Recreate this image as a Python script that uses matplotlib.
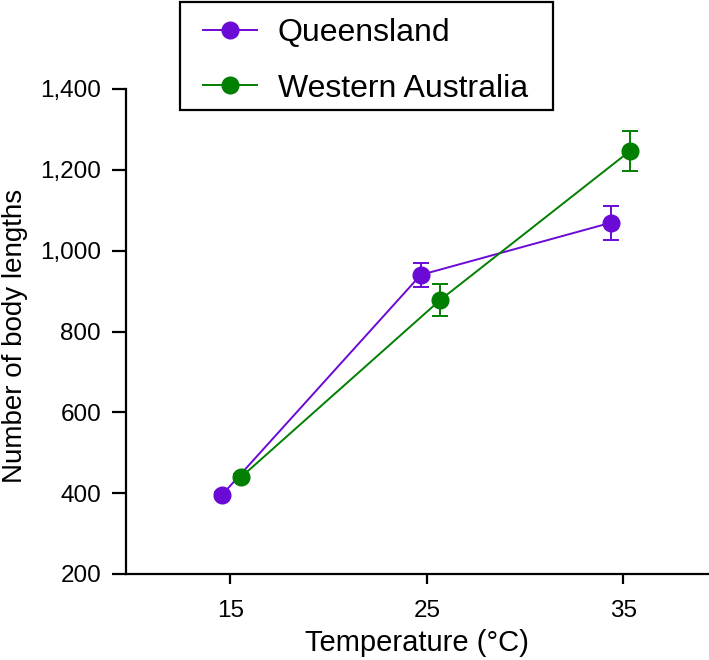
import matplotlib
matplotlib.use("Agg")
import matplotlib.pyplot as plt
from matplotlib.lines import Line2D
from matplotlib.patches import Rectangle
from matplotlib.legend_handler import HandlerLine2D

plt.rcParams['font.family'] = ['Liberation Sans', 'DejaVu Sans']

temps = [15, 25, 35]
series = ["Queensland", "Western Australia"]
# plotted (dodged) temperature positions
qld_x = [14.57, 24.69, 34.35]
wa_x = [15.56, 25.68, 35.34]
qld_mean = [395, 940, 1069]
qld_err = [8, 30, 42]
wa_mean = [440, 878, 1247]
wa_err = [8, 40, 49]
colors = ["#6B0AD6", "#007F00"]

W, H = 709, 660
fig = plt.figure(figsize=(W / 100, H / 100), dpi=100)
ax = fig.add_axes([126 / W, 1 - 574 / H, (708 - 126) / W, (574 - 89) / H])

handles = []
for name, x, m, e, c in zip(series, [qld_x, wa_x], [qld_mean, wa_mean],
                            [qld_err, wa_err], colors):
    ax.errorbar(x, m, yerr=e, color=c, marker='o', markersize=12, lw=1.4,
                capsize=6, capthick=1.4, elinewidth=1.4)
    handles.append(Line2D([], [], color=c, marker='o', markersize=12, lw=1.4))

ax.set_xlim(9.7, 39.3)
ax.set_ylim(200, 1400)
ax.set_xticks(temps)
yt = [200, 400, 600, 800, 1000, 1200, 1400]
ax.set_yticks(yt)
ax.set_yticklabels([f"{v:,}" for v in yt])
for s in ['top', 'right']:
    ax.spines[s].set_visible(False)
for s in ['left', 'bottom']:
    ax.spines[s].set_linewidth(1.6)
ax.tick_params(axis='both', direction='out', width=1.6, labelsize=17.5)
ax.tick_params(axis='y', length=10, pad=8)
ax.tick_params(axis='x', length=7, pad=12)
ax.set_xlabel("Temperature (°C)", fontsize=21, labelpad=5)
fig.text(15 / W, 1 - 336 / H, "Number of body lengths", fontsize=20,
         rotation=90, ha='center', va='center')

# legend frame drawn in figure pixels
fig.add_artist(Rectangle((180 / W, 1 - 110 / H), (553 - 180) / W, (110 - 2) / H,
                         transform=fig.transFigure, fill=False, edgecolor='black',
                         lw=1.6, zorder=5))
leg = fig.legend(handles=handles, labels=series, loc='upper left',
                 bbox_to_anchor=(180 / W, 1 - 2 / H), borderaxespad=0, fontsize=23,
                 frameon=False, numpoints=1,
                 handler_map={Line2D: HandlerLine2D(xpad=0.216)},
                 handlelength=1.906, borderpad=0.5, labelspacing=0.8, handletextpad=0.65)

fig.savefig("out.png", dpi=100)
